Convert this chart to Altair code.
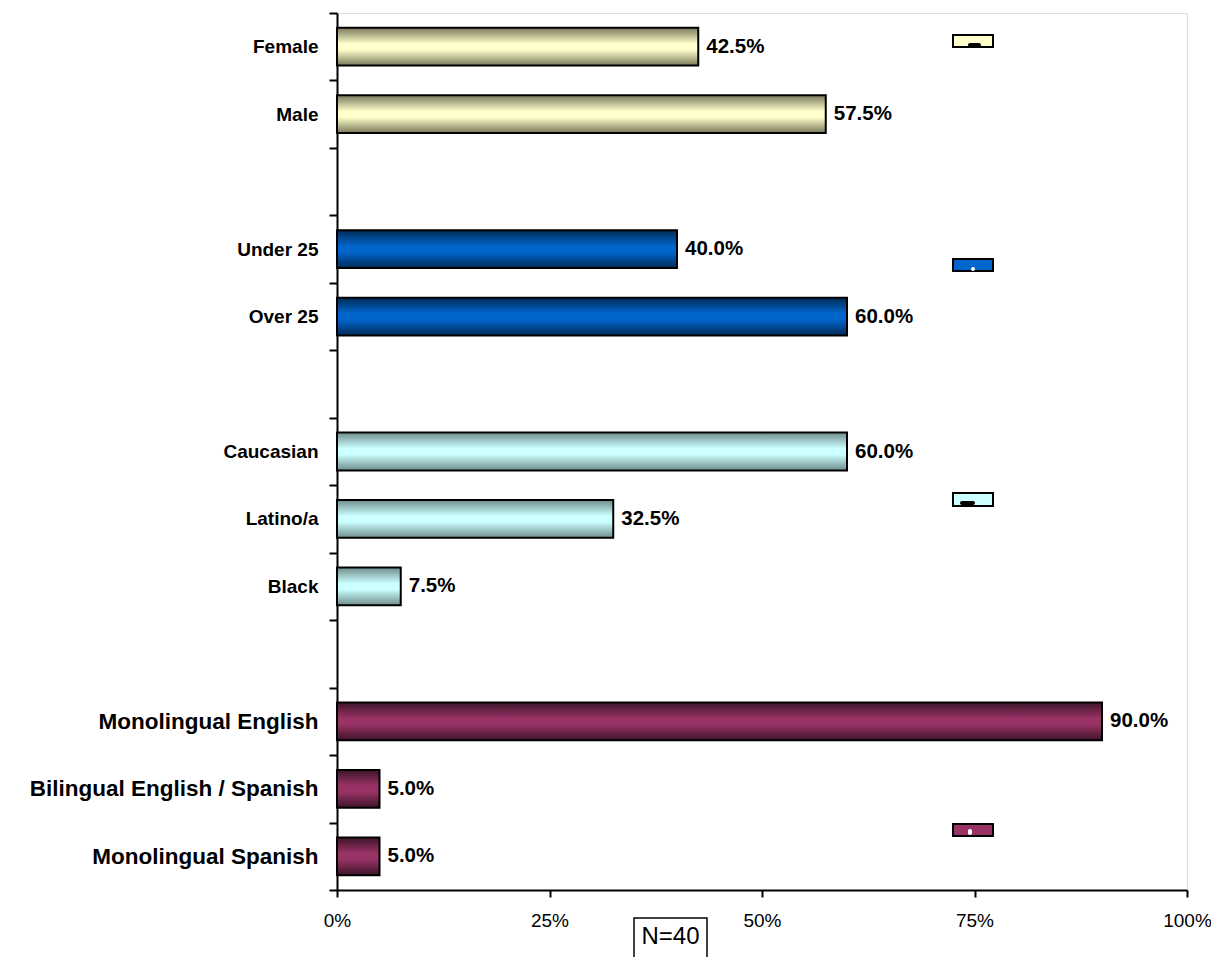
import altair as alt
import pandas as pd

# ---- data ----
categories = ["Female", "Male", "_gap1", "Under 25", "Over 25 ", "_gap2",
              "Caucasian", "Latino/a", "Black", "_gap3",
              "Monolingual English", "Bilingual English / Spanish", "Monolingual Spanish"]
bar_labels = ["Female", "Male", "Under 25", "Over 25 ", "Caucasian", "Latino/a", "Black",
              "Monolingual English", "Bilingual English / Spanish", "Monolingual Spanish"]
values = [0.425, 0.575, 0.40, 0.60, 0.60, 0.325, 0.075, 0.90, 0.05, 0.05]
groups = ["Gender", "Gender", "Age", "Age", "Ethnicity", "Ethnicity", "Ethnicity",
          "Language", "Language", "Language"]
x_ticks = [0, 0.25, 0.5, 0.75, 1.0]
note_text = "N=40"

group_colors = {
    "Gender": ("#78785a", "#ffffcc"),
    "Age": ("#002a55", "#0066cc"),
    "Ethnicity": ("#6f8c8c", "#ccffff"),
    "Language": ("#3d1429", "#993366"),
}

df = pd.DataFrame({"category": bar_labels, "value": values, "group": groups})

FONT = "Liberation Sans"

y_enc = alt.Y("category:N",
              scale=alt.Scale(domain=categories, paddingInner=0, paddingOuter=0),
              axis=alt.Axis(title=None, tickBand="extent", tickSize=8, tickWidth=2,
                            tickColor="black", domainColor="black", domainWidth=2,
                            labelFont=FONT,
                            labelFontSize={"condition": {"test": "indexof(datum.label, 'lingual') >= 0",
                                                         "value": 22.5},
                                           "value": 19},
                            labelFontWeight="bold",
                            labelColor="black", labelPadding=11, labelLimit=400,
                            labelExpr="indexof(datum.label, '_gap') == 0 ? '' : datum.label"))
x_enc = alt.X("value:Q",
              scale=alt.Scale(domain=[0, 1]),
              axis=alt.Axis(title=None, values=x_ticks, format=".0%", grid=False,
                            tickSize=7, tickWidth=2, tickColor="black",
                            domainColor="black", domainWidth=2, labelFlush=False,
                            labelFont=FONT, labelFontSize=19, labelColor="black",
                            labelPadding=14))

layers = []
for g, (dark, light) in group_colors.items():
    grad = alt.LinearGradient(
        gradient="linear", x1=0, x2=0, y1=0, y2=1,
        stops=[alt.GradientStop(offset=0, color=dark),
               alt.GradientStop(offset=0.42, color=light),
               alt.GradientStop(offset=0.58, color=light),
               alt.GradientStop(offset=1, color=dark)])
    layers.append(
        alt.Chart(df).transform_filter(alt.datum.group == g)
        .mark_bar(fill=grad, stroke="black", strokeWidth=2, height={"band": 0.56})
        .encode(x=x_enc, y=y_enc)
    )

labels = alt.Chart(df).mark_text(align="left", baseline="middle", dx=8, font=FONT,
                                 fontSize=20.5, fontWeight="bold", color="black").encode(
    x="value:Q", y=alt.Y("category:N"),
    text=alt.Text("value:Q", format=".1%"))
layers.append(labels)

# stray legend swatches at the right
swatch_y = {"Gender": (22, 34), "Age": (246, 258), "Ethnicity": (480, 493), "Language": (811, 823)}
for g, (y1, y2) in swatch_y.items():
    layers.append(
        alt.Chart(alt.Data(values=[{"g": g}])).mark_rect(
            fill=group_colors[g][1], stroke="black", strokeWidth=2)
        .encode(x=alt.value(616), x2=alt.value(656), y=alt.value(y1), y2=alt.value(y2))
    )

# small glyph remnants inside swatches
details = [
    ((631, 644, 30, 34), "black"),
    ((634, 638, 254, 258), "white"),
    ((623, 638, 488, 492), "black"),
    ((631, 635, 816, 822), "white"),
]
for (xa, xb, ya, yb), col in details:
    layers.append(
        alt.Chart(alt.Data(values=[{"d": 1}])).mark_rect(fill=col, cornerRadius=2)
        .encode(x=alt.value(xa), x2=alt.value(xb), y=alt.value(ya), y2=alt.value(yb))
    )

# N=40 box
layers.append(
    alt.Chart(alt.Data(values=[{"n": note_text}])).mark_rect(
        fill="white", stroke="black", strokeWidth=1.5)
    .encode(x=alt.value(297), x2=alt.value(370), y=alt.value(905), y2=alt.value(980))
)
layers.append(
    alt.Chart(alt.Data(values=[{"n": note_text}])).mark_text(
        font=FONT, fontSize=24, color="black", align="center", baseline="middle")
    .encode(x=alt.value(333.5), y=alt.value(924), text="n:N")
)

chart = alt.layer(*layers).properties(
    width=850, height=877,
    autosize=alt.AutoSizeParams(type="none"),
    padding={"left": 329, "top": 5, "right": 24, "bottom": 70},
).configure_view(stroke=None).configure(background="white")

chart.save("out.html", embed_options={"renderer": "svg", "actions": False})
